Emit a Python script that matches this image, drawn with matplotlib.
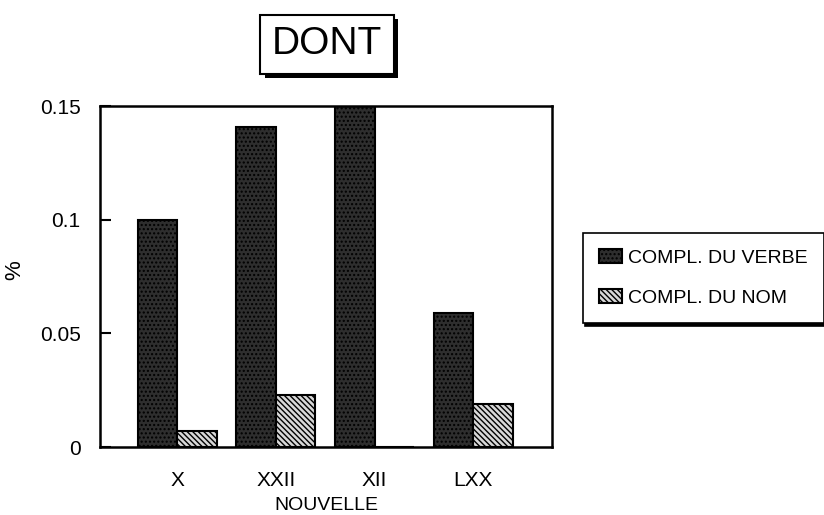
import matplotlib.pyplot as plt
import matplotlib.patheffects as pe
import numpy as np

plt.rcParams['font.family'] = ['Liberation Sans', 'DejaVu Sans']
plt.rcParams['hatch.color'] = "#333333"

# données
nouvelles = ["X", "XXII", "XII", "LXX"]
compl_verbe = [0.100, 0.141, 0.150, 0.059]
compl_nom = [0.007, 0.023, 0.0, 0.019]
series_noms = ["COMPL. DU VERBE", "COMPL. DU NOM"]

fig = plt.figure(figsize=(8.24, 5.15), dpi=100)
ax = fig.add_axes([0.1214, 0.132, 0.549, 0.662])

x = np.arange(len(nouvelles))
largeur = 0.4
ax.bar(x - largeur / 2, compl_verbe, largeur, color="#2e2e2e", edgecolor="black",
       linewidth=1.5, hatch="....", label=series_noms[0])
ax.bar(x + largeur / 2, compl_nom, largeur, color="#d8d8d8", edgecolor="black",
       linewidth=1.5, hatch="\\\\\\\\\\\\", label=series_noms[1])

ax.set_xlim(-0.78, 3.8)
ax.set_ylim(0, 0.15)
ax.set_xticks(x)
ax.set_xticklabels(nouvelles, fontsize=15)
ax.set_yticks([0, 0.05, 0.1, 0.15])
ax.set_yticklabels(["0", "0.05", "0.1", "0.15"], fontsize=15)
ax.tick_params(axis="x", length=0, pad=17)
ax.tick_params(axis="y", direction="in", length=8, width=1.5, pad=14)
for s in ax.spines.values():
    s.set_linewidth(1.8)
ax.set_xlabel("NOUVELLE", fontsize=14, labelpad=5)
ax.set_ylabel("%", fontsize=16)
ax.yaxis.set_label_coords(-0.166, 0.52)

# titre encadré avec ombre
t = fig.text(0.397, 0.914, "DONT", fontsize=28, ha="center", va="center",
             bbox=dict(boxstyle="square,pad=0.3", facecolor="white", edgecolor="black", linewidth=1.5))
t.get_bbox_patch().set_path_effects([pe.SimplePatchShadow(offset=(3, -3), shadow_rgbFace="black", alpha=1), pe.Normal()])

leg = fig.legend(loc="upper left", bbox_to_anchor=(0.707, 0.548), fontsize=14,
                 fancybox=False, shadow=dict(color="black", alpha=1), edgecolor="black", framealpha=1,
                 handlelength=1.2, handleheight=0.7, handletextpad=0.3, labelspacing=1.15,
                 borderpad=0.85, borderaxespad=0)
leg.get_frame().set_linewidth(1.2)

fig.savefig("out.png", dpi=100)
